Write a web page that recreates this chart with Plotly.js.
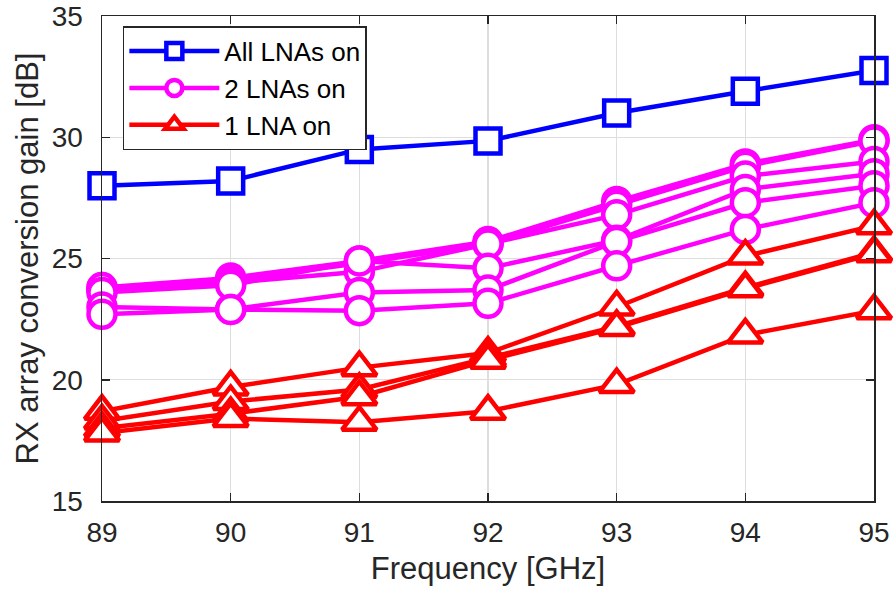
<!DOCTYPE html>
<html>
<head>
<meta charset="utf-8">
<script src="https://cdn.plot.ly/plotly-3.0.1.min.js"></script>
<style>html,body{margin:0;padding:0;background:#fff;}#chart{width:896px;height:590px;}</style>
</head>
<body>
<div id="chart"></div>
<script>
// Frequency axis (GHz)
const freq = [89, 90, 91, 92, 93, 94, 95];

// All LNAs on
const allOn = [28.0, 28.2, 29.5, 29.85, 31.0, 31.9, 32.75];

// 2 LNAs on (six combinations)
const two1 = [23.8, 24.2, 24.9, 25.7, 27.35, 28.9, 29.9];
const two2 = [23.7, 24.1, 24.8, 25.6, 27.2, 28.8, 29.85];
const two3 = [23.8, 24.0, 24.45, 25.6, 26.8, 28.4, 29.0];
const two4 = [23.6, 23.9, 24.9, 24.6, 25.75, 27.85, 28.5];
const two5 = [23.0, 22.9, 23.6, 23.7, 25.7, 27.3, 28.0];
const two6 = [22.7, 22.9, 22.85, 23.15, 24.7, 26.2, 27.3];

// 1 LNA on (four combinations)
const one1 = [18.7, 19.7, 20.5, 21.1, 23.0, 25.1, 26.35];
const one2 = [18.3, 19.1, 19.6, 20.9, 22.2, 23.8, 25.25];
const one3 = [18.0, 18.6, 19.3, 20.8, 22.15, 23.75, 25.2];
const one4 = [17.8, 18.4, 18.25, 18.7, 19.8, 21.85, 22.85];

const legendNames = ["All LNAs on", "2 LNAs on", "1 LNA on"];

const FONT = "Liberation Sans, Arial, Helvetica, sans-serif";

function mk(y, color, symbol, size, name, group, show) {
  return {
    x: freq, y: y, type: "scatter", mode: "lines+markers",
    name: name, legendgroup: group, showlegend: show, cliponaxis: false,
    line: {color: color, width: 4.5},
    marker: {symbol: symbol, size: size, color: "#ffffff", line: {color: color, width: 4.5}},
    hoverinfo: "x+y"
  };
}

const traces = [
  mk(allOn, "#0000ff", "square", 25, legendNames[0], "a", true),
  mk(two1, "#ff00ff", "circle", 27, legendNames[1], "b", true),
  mk(two2, "#ff00ff", "circle", 27, legendNames[1], "b", false),
  mk(two3, "#ff00ff", "circle", 27, legendNames[1], "b", false),
  mk(two4, "#ff00ff", "circle", 27, legendNames[1], "b", false),
  mk(two5, "#ff00ff", "circle", 27, legendNames[1], "b", false),
  mk(two6, "#ff00ff", "circle", 27, legendNames[1], "b", false),
  mk(one1, "#ff0000", "triangle-up", 30, legendNames[2], "c", true),
  mk(one2, "#ff0000", "triangle-up", 30, legendNames[2], "c", false),
  mk(one3, "#ff0000", "triangle-up", 30, legendNames[2], "c", false),
  mk(one4, "#ff0000", "triangle-up", 30, legendNames[2], "c", false)
];

const axisCommon = {
  showline: true, linecolor: "#262626", linewidth: 1.5, mirror: "allticks",
  ticks: "inside", ticklen: 8, tickwidth: 1.5, tickcolor: "#262626",
  showgrid: true, gridcolor: "#dedede", gridwidth: 1.2, zeroline: false,
  tickfont: {family: FONT, size: 28, color: "#262626"}
};

const layout = {
  width: 896, height: 590,
  margin: {l: 102, r: 22, t: 16, b: 89},
  paper_bgcolor: "#ffffff", plot_bgcolor: "#ffffff",
  showlegend: true,
  xaxis: Object.assign({}, axisCommon, {
    range: [89, 95], tickvals: freq, ticklabelstandoff: 6,
    title: {text: "Frequency [GHz]", font: {family: FONT, size: 31, color: "#262626"}, standoff: 10}
  }),
  yaxis: Object.assign({}, axisCommon, {
    range: [15, 35], tickvals: [15, 20, 25, 30, 35], ticklabelstandoff: 12,
    title: {text: "RX array conversion gain [dB]", font: {family: FONT, size: 31, color: "#262626"}, standoff: 4}
  }),
  legend: {
    x: 0.027, y: 0.979, xanchor: "left", yanchor: "top",
    bgcolor: "#ffffff", bordercolor: "#262626", borderwidth: 1.5,
    font: {family: FONT, size: 26, color: "#000000"},
    itemwidth: 90, tracegroupgap: 0, traceorder: "normal"
  }
};

Plotly.newPlot("chart", traces, layout, {displayModeBar: false, staticPlot: true});
</script>
</body>
</html>
